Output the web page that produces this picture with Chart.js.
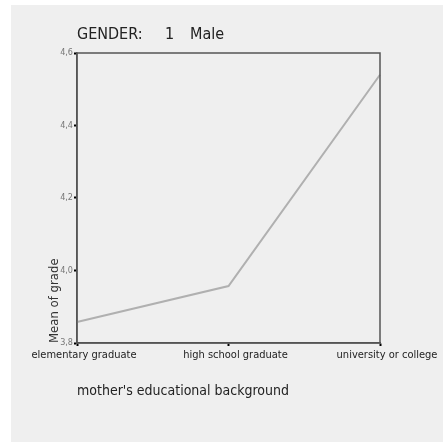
<!DOCTYPE html>
<html lang="en">

<head>
  <meta charset="UTF-8">
  <title>Mean of grade - Male</title>
  <script src="https://cdn.jsdelivr.net/npm/chart.js"></script>
  <style>
    body { margin: 0; background: #fff; overflow: hidden; width: 443px; height: 442px; position: relative; }
    .paper { position: absolute; left: 11px; top: 5px; right: 0; bottom: 0; background: #efefef; }
    canvas { position: absolute; left: 0; top: 0; }
  </style>
</head>

<body>
  <div class="paper"></div>
  <canvas id="chartMale" width="460" height="442"></canvas>

  <script>
    // data
    const categories = ['elementary graduate', 'high school graduate', 'university or college'];
    const meanGrade = [3.858, 3.957, 4.54];
    const yTicks = [3.8, 4.0, 4.2, 4.4, 4.6];

    const FONT = "'DejaVu Sans Condensed', 'DejaVu Sans', sans-serif";

    // header text and the box round the plot
    const frame = {
      id: 'frame',
      afterDraw(chart) {
        const { ctx, chartArea: a } = chart;
        ctx.save();
        ctx.strokeStyle = '#555';
        ctx.lineWidth = 1.5;
        ctx.strokeRect(a.left, a.top, a.right - a.left, a.bottom - a.top);
        ctx.fillStyle = '#222';
        ctx.font = '16px ' + FONT;
        ctx.textBaseline = 'alphabetic';
        ctx.fillText('GENDER:', a.left, 39);
        ctx.fillText('1', 165, 39);
        ctx.fillText('Male', 190, 39);
        ctx.restore();
      }
    };

    new Chart(document.getElementById('chartMale').getContext('2d'), {
      type: 'line',
      data: {
        labels: categories,
        datasets: [{
          label: 'Mean of grade',
          data: meanGrade,
          borderColor: '#b0b0b0',
          borderWidth: 2,
          pointRadius: 0,
          tension: 0
        }]
      },
      options: {
        responsive: false,
        animation: false,
        layout: { padding: { left: 37, right: 80, top: 53, bottom: 37 } },
        plugins: { legend: { display: false }, tooltip: { enabled: false } },
        scales: {
          x: {
            offset: false,
            grid: { drawOnChartArea: false, tickLength: 3, tickColor: '#000', tickWidth: 2 },
            border: { color: '#555', width: 1.5 },
            ticks: { color: '#222', font: { family: FONT, size: 11 }, maxRotation: 0, autoSkip: false, padding: 3, labelOffset: 7 },
            title: { display: true, text: "mother's educational background", align: 'start', color: '#222', font: { family: FONT, size: 14 }, padding: { bottom: 5 } },
            afterFit(scale) { scale.height = 62; }
          },
          y: {
            min: 3.8,
            max: 4.6,
            afterBuildTicks(scale) { scale.ticks = yTicks.map(v => ({ value: v })); },
            grid: { drawOnChartArea: false, tickLength: 3, tickColor: '#000', tickWidth: 2 },
            border: { color: '#555', width: 1.5 },
            ticks: { color: '#777', font: { family: FONT, size: 9 }, padding: 1, callback: v => v.toFixed(1).replace('.', ',') },
            title: { display: true, text: 'Mean of grade', align: 'start', color: '#333', font: { family: FONT, size: 13 }, padding: { top: 10 } },
            afterFit(scale) { scale.width = 40; }
          }
        }
      },
      plugins: [frame]
    });
  </script>
</body>

</html>
